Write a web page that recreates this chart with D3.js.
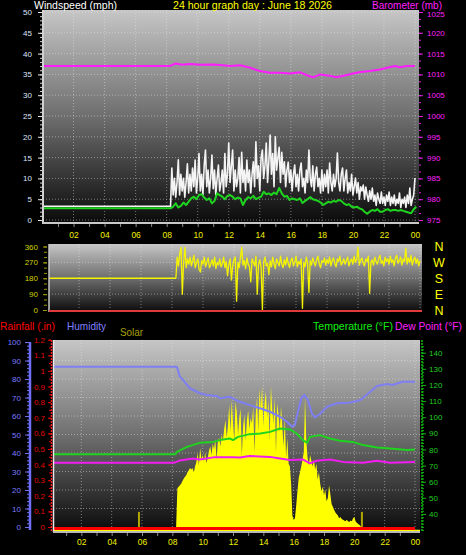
<!DOCTYPE html>
<html><head><meta charset="utf-8">
<script src="https://cdn.jsdelivr.net/npm/d3@7"></script>
<style>
html,body{margin:0;padding:0;background:#000;}
svg{display:block;font-family:"Liberation Sans",Arial,sans-serif;}
</style></head><body>
<svg id="c" width="466" height="555"></svg>
<script>
// ---------------- DATA ----------------
const hourTicks = [2,4,6,8,10,12,14,16,18,20,22,24];
const hourLabels = ["02","04","06","08","10","12","14","16","18","20","22","00"];
const windTicks = [0,5,10,15,20,25,30,35,40,45,50];
const baroTicks = [975,980,985,990,995,1000,1005,1010,1015,1020,1025];
const dirTicks = [0,90,180,270,360];
const compassLabels = ["N","E","S","W","N"];
const humTicks = [0,10,20,30,40,50,60,70,80,90,100];
const rainTicks = [0,0.1,0.2,0.3,0.4,0.5,0.6,0.7,0.8,0.9,1,1.1,1.2];
const rainTickLabels = ["0","0.1","0.2","0.3","0.4","0.5","0.6","0.7","0.8","0.9","1","1.1","1.2"];
const tempTicks = [40,50,60,70,80,90,100,110,120,130,140];

const titleText = "24 hour graph day : June 18 2026";

// calm period before sampling starts
const calmHours = [0, 8.25];
const calmGust = [3.3, 3.3];
const calmAvg = [2.8, 2.8];
const calmDir = [180, 180];

// 5-minute samples from 08:15
const sampleStartHour = 8.25;
const sampleStepMin = 5;
const gustValues = [
  3.3,12.5,6,10,5.5,9,14.5,6,11,7,10,5.5,
  9,13.5,6.5,11,7,12.5,8,14.4,6.5,10,16,7,
  11,6,13,16.8,8,12,6.5,10,15.6,7.5,12,6,
  10,13.2,7,9,12,6.5,16,8,11,18.5,9,13,
  16.8,7,12,8,10,15,6.5,16.3,9,12,7,14.4,
  9,12,6.5,11,14,8,18.8,10,13,7,15,16.8,
  10,13,18.5,9,14,20.4,11,16,8,20,12,15,
  17.5,9,16.3,11,14,8,12,13.9,9,12,7,11,
  13.2,8,11,7,12,13.7,8,10,6.5,12,9,16.8,
  10,8,13,7,11,12.7,8,10,6.5,12,7,11,
  8,12,6.5,13.7,9,7,11,8,10,16.1,9,7,
  11,12.5,7,10,12,6.5,9,7,11,6,8,10.1,
  6.5,9,5,8,7,8.4,5,7.9,6,4.5,7,5,
  7.7,4.5,6,3.5,6.5,5,4,6.7,4,5.5,3.5,6,
  4.5,6.7,3.5,5.5,4,6,3.5,5,4,6.5,3,5,
  4,5.5,3,6,4,7.7,3.5,5,6,10.1
];
const dirValues = [
  180,300,250,320,355,90,270,355,240,290,260,300,
  250,280,310,240,270,290,230,215,280,260,300,245,
  270,295,240,260,285,250,300,235,270,255,290,245,
  265,300,240,275,195,260,290,170,250,285,300,50,
  270,240,300,355,255,280,235,295,260,245,160,290,
  270,250,305,90,260,285,240,0,275,300,250,265,
  200,280,245,300,260,235,290,270,250,305,260,240,
  285,255,300,265,240,280,295,250,270,305,245,275,
  260,290,10,270,245,300,265,100,280,255,295,270,
  250,285,305,260,240,280,270,295,255,285,265,300,
  250,280,295,265,245,290,275,305,255,270,290,260,
  280,300,250,275,290,260,305,270,285,355,255,280,
  295,265,250,290,275,305,95,270,285,255,300,275,
  260,290,310,265,280,250,300,275,290,260,305,270,
  285,250,295,310,265,280,300,255,290,275,350,260,
  295,270,310,255,285,300,265,290,250,280
];
const solarValues = [
  0,270,280,290,300,320,335,350,360,380,395,410,
  400,410,380,420,450,515,430,549,470,500,455,520,
  445,480,530,560,500,580,540,610,470,590,620,560,
  640,600,680,744,620,700,850,660,880,720,600,870,
  800,640,760,820,500,700,780,600,740,810,680,760,
  720,840,520,780,900,660,960,820,980,700,860,940,
  760,880,600,980,820,720,900,520,860,780,660,840,
  700,560,760,480,620,440,420,300,80,50,60,150,
  250,340,380,420,470,520,900,600,480,430,500,460,
  420,470,400,440,330,380,300,250,280,220,260,180,
  200,290,230,160,140,120,100,90,80,60,70,55,
  50,45,40,50,40,35,45,40,60,70,40,30,
  20,15,5,0
];
// 10-minute average wind from 08:15
const avgStepMin = 10;
const avgValues = [
  2.8,3.2,4.0,3.0,3.4,4.2,
  3.6,4.4,5.2,5.6,5.0,6.0,
  6.2,5.4,4.8,5.2,4.0,4.6,
  6.4,6.0,5.6,5.0,5.8,6.0,
  5.6,5.0,5.4,5.2,3.6,4.8,
  5.5,5.2,5.8,5.0,5.3,5.6,
  6.8,6.2,6.4,6.0,6.6,6.2,
  7.7,6.4,5.6,5.8,4.8,5.2,
  5.0,4.8,5.2,4.1,4.6,5.0,
  5.5,5.0,4.8,4.6,4.2,3.6,
  4.0,4.4,4.2,4.6,4.4,4.8,
  4.6,4.0,3.6,3.8,3.2,3.0,
  3.2,2.8,2.6,2.0,1.5,2.0,
  2.4,2.2,2.6,2.0,2.0,2.4,
  2.6,2.2,2.4,2.4,2.2,2.4,
  2.2,2.0,1.8,1.6,2.6,3.2
];

const baroHours = [0,8.2,8.56,9.0,9.5,10.2,11.0,11.6,12.1,12.74,13.38,14.0,14.65,15.3,15.96,16.6,17.25,17.44,17.9,18.5,18.9,19.4,20.0,20.5,21.1,21.75,22.2,22.7,23.0,23.5,24];
const baroValues = [1012.0,1012.0,1012.6,1012.3,1012.5,1012.3,1012.4,1012.2,1012.0,1012.2,1011.6,1010.8,1010.4,1010.4,1010.2,1010.5,1009.5,1009.3,1010.0,1009.7,1009.3,1009.7,1010.2,1010.6,1010.8,1011.2,1011.6,1012.0,1011.7,1012.0,1012.0];

const humHours = [0,8.3,8.5,8.7,9.16,9.82,10.28,10.94,11.14,11.8,12.26,12.46,13.1,13.78,14.44,15.1,15.56,15.9,16.08,16.2,16.5,16.7,16.94,17.2,17.4,17.73,18.2,18.85,19.7,20.4,20.8,21.5,22.15,22.5,23.2,24];
const humValues = [86.6,86.6,81.2,79.5,75,72.3,71.4,70.8,69.6,70.4,68.3,67.7,65.9,64.2,62.3,59.6,56.9,54.2,55.1,59.6,69.6,71.4,68.6,61.5,59.3,61.1,65,66.9,67.2,68.6,71.4,76.2,77.3,76.8,78.5,78.5];

const tempHours = [0,8.2,8.3,8.97,9.8,10.7,11.14,11.8,12.0,12.33,13.1,13.8,14.44,15.1,15.75,16.2,16.6,16.9,17.07,17.73,18.4,19.05,19.9,20.57,21.5,22.35,23.47,24];
const tempValues = [77,77,78.5,81.6,84.1,84.7,85.8,86.8,85.8,87.8,89.5,89.9,90.9,93,92.4,89.9,85.8,84.1,87.8,88.9,86.8,85.4,84.7,82.7,81.2,80.6,79.6,80];

const dewHours = [0,8.1,8.5,9.36,9.8,10.7,12.0,12.46,13.1,14.44,15.1,15.75,16.6,17.07,17.5,18.4,19.25,20.57,21.5,22.35,24];
const dewValues = [71.7,71.7,73.2,74.4,73.8,75.1,75.1,75.0,75.9,75.4,74.4,73.4,73.8,71.4,73,73.8,72.3,71.7,73,71.7,72.3];

const rainHours = [0,24];
const rainValues = [0,0];

const flagHours = [5.8, 20.5];
const flagValues = [105, 105];

// ---------------- DRAW ----------------
const svg = d3.select("#c");
const defs = svg.append("defs");
const g = defs.append("linearGradient").attr("id","bg").attr("x1",0).attr("y1",0).attr("x2",0).attr("y2",1);
g.append("stop").attr("offset",0).attr("stop-color","#c6c6c6");
g.append("stop").attr("offset",0.5).attr("stop-color","#6e6e6e");
g.append("stop").attr("offset",1).attr("stop-color","#0a0a0a");

const P1 = {l:43,r:419,t:10,b:223};
const P2 = {l:49,r:422,t:244,b:312};
const P3 = {l:53,r:420,t:340,b:532};

function panel(P,id){
  svg.append("rect").attr("x",P.l).attr("y",P.t).attr("width",P.r-P.l).attr("height",P.b-P.t).attr("fill","url(#bg)");
  defs.append("clipPath").attr("id",id).append("rect").attr("x",P.l).attr("y",P.t).attr("width",P.r-P.l).attr("height",P.b-P.t);
  return svg.append("g").attr("clip-path",`url(#${id})`);
}
const x1 = d3.scaleLinear([0,24],[42.5,415]);
const x2 = d3.scaleLinear([0,24],[48,420]);
const x3 = d3.scaleLinear([0,24],[51,415]);
const windY = d3.scaleLinear([0,50],[220,12]);
const baroY = d3.scaleLinear([975,1025],[220,12]);
const dirY = d3.scaleLinear([0,360],[310,246.5]);
const humY = d3.scaleLinear([0,100],[527,342]);
const rainY = d3.scaleLinear([0,1.2],[527,339.7]);
const tempY = d3.scaleLinear([30,140],[530.1,352.7]);
const solarY = d3.scaleLinear([0,1300],[527,340]);

const sampleHour = i => sampleStartHour + i*sampleStepMin/60;
const avgHour = i => sampleStartHour + i*avgStepMin/60;
const grid = "rgba(235,235,235,0.45)";

function gridLines(gp,P,xs,xvals,ys,yvals){
  gp.selectAll(null).data(xvals).join("line")
    .attr("x1",d=>xs(d)).attr("x2",d=>xs(d)).attr("y1",P.t).attr("y2",P.b)
    .attr("stroke",grid).attr("stroke-dasharray","1,2");
  gp.selectAll(null).data(yvals).join("line")
    .attr("x1",P.l).attr("x2",P.r).attr("y1",d=>ys(d)).attr("y2",d=>ys(d))
    .attr("stroke",grid).attr("stroke-dasharray","1,2");
}
function path(gp,xs,ys,hours,vals,color,w){
  gp.append("path").datum(d3.zip(hours,vals))
    .attr("d",d3.line().x(d=>xs(d[0])).y(d=>ys(d[1])))
    .attr("fill","none").attr("stroke",color).attr("stroke-width",w).attr("stroke-linejoin","round");
}
function styleAxis(a,col,tcol,fs){
  a.select(".domain").remove();
  a.selectAll("line").attr("stroke",tcol);
  a.selectAll("text").attr("fill",col).attr("font-size",fs).attr("font-family","Liberation Sans, Arial, sans-serif");
}

// ===== Panel 1: wind + barometer =====
const g1 = panel(P1,"c1");
gridLines(g1,P1,x1,hourTicks,windY,windTicks);
const gustHours = calmHours.concat(gustValues.map((v,i)=>sampleHour(i)));
const gustAll = calmGust.concat(gustValues);
path(g1,x1,windY,gustHours,gustAll,"#f4f4f4",1.6);
const avgHours = calmHours.concat(avgValues.map((v,i)=>avgHour(i)));
path(g1,x1,windY,avgHours,calmAvg.concat(avgValues),"#1ed41e",2);
path(g1,x1,baroY,baroHours,baroValues,"#ff1cff",2);
// frame
svg.append("line").attr("x1",P1.l).attr("x2",P1.l).attr("y1",P1.t).attr("y2",P1.b+1).attr("stroke","#d0d0d0").attr("stroke-width",2);
svg.append("line").attr("x1",P1.l).attr("x2",P1.r).attr("y1",P1.b).attr("y2",P1.b).attr("stroke","#c8c8c8").attr("stroke-width",2);
// axes
let a;
a = svg.append("g").attr("transform",`translate(${P1.l-1},0)`).call(d3.axisLeft(windY).tickValues(d3.range(0,50.01,1)).tickSize(2).tickFormat(""));
styleAxis(a,"#fff","#d8d8d8",8);
a = svg.append("g").attr("transform",`translate(${P1.l-1},0)`).call(d3.axisLeft(windY).tickValues(windTicks).tickSize(4).tickPadding(6));
styleAxis(a,"#dfe6ff","#e8e8e8",8);
a = svg.append("g").attr("transform",`translate(${P1.r},0)`).call(d3.axisRight(baroY).tickValues(d3.range(975,1025.01,5/3)).tickSize(2).tickFormat(""));
styleAxis(a,"#ff00ff","#e020e0",8);
a = svg.append("g").attr("transform",`translate(${P1.r},0)`).call(d3.axisRight(baroY).tickValues(baroTicks).tickSize(4).tickPadding(4).tickFormat(d3.format("d")));
styleAxis(a,"#ff20ff","#e020e0",8);
a.selectAll("text").filter(d=>d===1025).attr("dy","0.6em");
a = svg.append("g").attr("transform",`translate(0,${P1.b+1})`).call(d3.axisBottom(x1).tickValues(d3.range(1,24)).tickSize(3).tickFormat(""));
styleAxis(a,"#fff","#8a8a8a",8);
a = svg.append("g").attr("transform",`translate(0,${P1.b+1})`).call(d3.axisBottom(x1).tickValues(hourTicks).tickSize(0).tickPadding(8).tickFormat((d,i)=>hourLabels[i]));
styleAxis(a,"#f0f000","#000",8.5);

// titles
function label(txt,x,y,col,fs,len){
  const t = svg.append("text").attr("x",x).attr("y",y).attr("fill",col).attr("font-size",fs).text(txt);
  if(len) t.attr("textLength",len).attr("lengthAdjust","spacingAndGlyphs");
  return t;
}
label("Windspeed (mph)",34,9,"#ffffff",10.5,83);
label(titleText,173,9,"#ffff00",10.5,159);
label("Barometer (mb)",372,9,"#ff20ff",10.5,70);

// ===== Panel 2: wind direction =====
const g2 = panel(P2,"c2");
gridLines(g2,P2,x2,hourTicks,dirY,[90,180,270]);
const dirHours = calmHours.concat(dirValues.map((v,i)=>sampleHour(i)));
path(g2,x2,dirY,dirHours,calmDir.concat(dirValues),"#f4f400",1.3);
svg.append("line").attr("x1",P2.l).attr("x2",P2.l).attr("y1",P2.t).attr("y2",P2.b).attr("stroke","#c8c8c8").attr("stroke-width",1.5);
svg.append("line").attr("x1",P2.l).attr("x2",P2.r).attr("y1",dirY(0)+1).attr("y2",dirY(0)+1).attr("stroke","#e03a3a").attr("stroke-width",2);
a = svg.append("g").attr("transform",`translate(${P2.l-2},0)`).call(d3.axisLeft(dirY).tickValues(d3.range(0,360.1,30)).tickSize(3).tickFormat(""));
styleAxis(a,"#c8c800","#9a9a00",8);
a = svg.append("g").attr("transform",`translate(${P2.l-2},0)`).call(d3.axisLeft(dirY).tickValues(dirTicks).tickSize(4).tickPadding(5));
styleAxis(a,"#d2d200","#9a9a00",8);
svg.append("g").selectAll("text").data(dirTicks).join("text")
  .attr("x",439).attr("y",d=>dirY(d)).attr("dy","0.36em").attr("text-anchor","middle")
  .attr("fill","#ffff00").attr("font-size",12.5).text((d,i)=>compassLabels[i]);

// ===== Panel 3: rain / humidity / solar / temperature =====
const g3 = panel(P3,"c3");
gridLines(g3,P3,x3,hourTicks,humY,[10,20,30,40,50,60,70,80,90]);
const solarHours = solarValues.map((v,i)=>sampleHour(i));
g3.append("path").datum(d3.zip(solarHours,solarValues))
  .attr("d",d3.area().x(d=>x3(d[0])).y0(solarY(0)+4).y1(d=>solarY(d[1])))
  .attr("fill","#ffff00");
g3.selectAll(null).data(d3.zip(flagHours,flagValues)).join("rect")
  .attr("x",d=>x3(d[0])-1).attr("width",2).attr("y",d=>solarY(d[1])).attr("height",d=>solarY(0)-solarY(d[1])+3)
  .attr("fill","#b0a800");
g3.append("line").attr("x1",P3.l).attr("x2",P3.r).attr("y1",solarY(0)+3.5).attr("y2",solarY(0)+3.5).attr("stroke","#ffff00").attr("stroke-width",1.5);
path(g3,x3,humY,humHours,humValues,"#7f7ff4",2);
path(g3,x3,tempY,tempHours,tempValues,"#1ed41e",2);
path(g3,x3,tempY,dewHours,dewValues,"#f21cf2",2);
g3.append("path").datum(d3.zip(rainHours,rainValues))
  .attr("d",d3.line().x(d=>x3(d[0])).y(d=>rainY(d[1])+1.5))
  .attr("fill","none").attr("stroke","#ff0000").attr("stroke-width",3);
svg.append("line").attr("x1",P3.l+0.5).attr("x2",P3.l+0.5).attr("y1",P3.t).attr("y2",P3.b).attr("stroke","#e8e8e8").attr("stroke-width",1.5);
svg.append("line").attr("x1",P3.l).attr("x2",P3.r).attr("y1",P3.b).attr("y2",P3.b).attr("stroke","#b8b8b8").attr("stroke-width",2);
// humidity axis
svg.append("line").attr("x1",30).attr("x2",30).attr("y1",humY(100)).attr("y2",humY(0)+3).attr("stroke","#6f6ff8").attr("stroke-width",2.5);
a = svg.append("g").attr("transform",`translate(29,0)`).call(d3.axisLeft(humY).tickValues(d3.range(0,100.1,2)).tickSize(2).tickFormat(""));
styleAxis(a,"#7c7cff","#6f6ff0",8);
a = svg.append("g").attr("transform",`translate(29,0)`).call(d3.axisLeft(humY).tickValues(humTicks).tickSize(4).tickPadding(4));
styleAxis(a,"#7c7cff","#6f6ff0",8);
// rain axis
svg.append("line").attr("x1",51.5).attr("x2",51.5).attr("y1",P3.t).attr("y2",P3.b).attr("stroke","#ff2020").attr("stroke-width",1.5).attr("stroke-dasharray","2,1");
a = svg.append("g").attr("transform",`translate(51,0)`).call(d3.axisLeft(rainY).tickValues(d3.range(0,1.2001,0.05)).tickSize(2).tickFormat(""));
styleAxis(a,"#e00000","#dd0000",8);
a = svg.append("g").attr("transform",`translate(51,0)`).call(d3.axisLeft(rainY).tickValues(rainTicks).tickSize(3).tickPadding(3).tickFormat((d,i)=>rainTickLabels[i]));
styleAxis(a,"#e40000","#dd0000",8);
// temperature axis
svg.append("line").attr("x1",422).attr("x2",422).attr("y1",P3.t).attr("y2",P3.b).attr("stroke","#10c010").attr("stroke-width",1.5).attr("stroke-dasharray","2,1");
a = svg.append("g").attr("transform",`translate(422,0)`).call(d3.axisRight(tempY).tickValues(d3.range(30,146,2)).tickSize(2).tickFormat(""));
styleAxis(a,"#10c010","#10b010",8);
a = svg.append("g").attr("transform",`translate(422,0)`).call(d3.axisRight(tempY).tickValues(tempTicks).tickSize(4).tickPadding(3));
styleAxis(a,"#22cc22","#10b010",8);
// x axis
a = svg.append("g").attr("transform",`translate(0,${P3.b+1})`).call(d3.axisBottom(x3).tickValues(d3.range(1,24)).tickSize(3).tickFormat(""));
styleAxis(a,"#fff","#8a8a8a",8);
a = svg.append("g").attr("transform",`translate(0,${P3.b+1})`).call(d3.axisBottom(x3).tickValues(hourTicks).tickSize(0).tickPadding(6).tickFormat((d,i)=>hourLabels[i]));
styleAxis(a,"#f0f000","#000",8.5);
// legends
label("Rainfall (.in)",0,330,"#ff0000",11,55);
label("Humidity",67,330,"#8080ff",11,39);
label("Solar",120,336,"#a8a000",11,23);
label("Temperature (°F)",313,330,"#10ee10",11,80);
label("Dew Point (°F)",395,330,"#ff20ff",11,67);
</script>
</body></html>
